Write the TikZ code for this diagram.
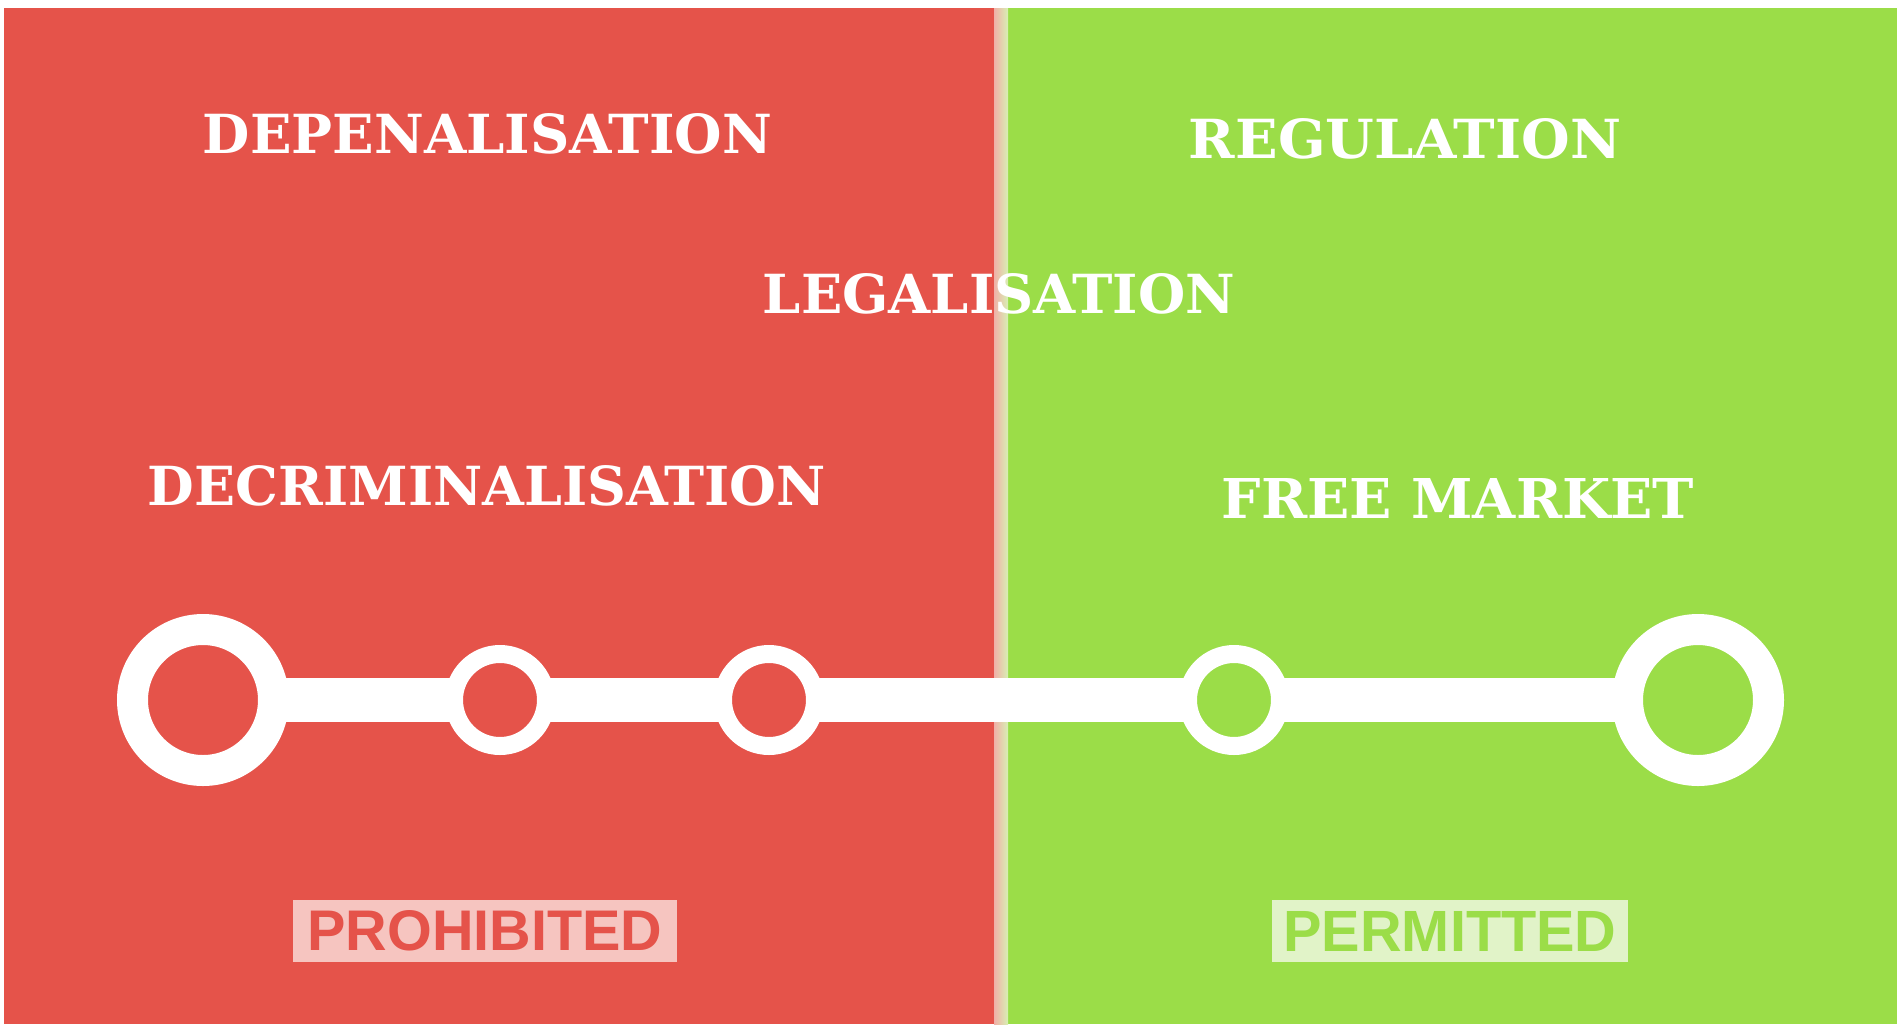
\documentclass[tikz,border=0pt]{standalone}
\usepackage{fontspec}
\usepackage{graphicx}
\newfontfamily\slabfont{DejaVu Serif Condensed}
\newfontfamily\labelfont{Liberation Sans}
\definecolor{redbg}{HTML}{E5534A}
\definecolor{greenbg}{HTML}{9BDD48}
\definecolor{redpale}{HTML}{F6C5C0}
\definecolor{greenpale}{HTML}{E1F3C8}
\definecolor{divred}{HTML}{F0B0A8}
\definecolor{divgreen}{HTML}{D8F0B4}
\tikzset{
  title/.style={inner sep=0pt, text=white, font=\slabfont\bfseries},
  bigring/.style={circle, draw=white, line width=15.5pt, minimum size=70.5pt, inner sep=0pt, outer sep=0pt},
  smallring/.style={circle, draw=white, line width=9pt, minimum size=46pt, inner sep=0pt, outer sep=0pt},
  bar/.style={draw=white, line width=22pt},
  tag/.style={inner sep=0pt, minimum height=31pt, font=\labelfont\bfseries}
}
\begin{document}
\begin{tikzpicture}[x=0.5pt,y=-0.5pt]
\useasboundingbox (0,0) rectangle (1897,1024);
\fill[white] (0,0) rectangle (1897,1024);
\fill[redbg] (4,8) rectangle (995,1024);
\fill[greenbg] (1007,8) rectangle (1897,1024);
\shade[left color=divred, right color=divgreen] (994,8) rectangle (1008,1024);

% timeline
\node[bigring, fill=redbg] (c1) at (203,700) {};
\node[smallring, fill=redbg] (c2) at (500,700) {};
\node[smallring, fill=redbg] (c3) at (769,700) {};
\node[smallring, fill=greenbg] (c4) at (1234,700) {};
\node[bigring, fill=greenbg] (c5) at (1698,700) {};
\draw[bar] (c1) -- (c2);
\draw[bar] (c2) -- (c3);
\draw[bar] (c3) -- (c4);
\draw[bar] (c4) -- (c5);

% titles
\node[title] (dep) at (487.5,134) {\resizebox{284.5pt}{20pt}{DEPENALISATION}};
\node[title] (reg) at (1405,139) {\resizebox{216pt}{20pt}{REGULATION}};
\node[title] (leg) at (999,294) {\resizebox{236pt}{20pt}{LEGALISATION}};
\node[title] (dec) at (487,486) {\resizebox{339pt}{20pt}{DECRIMINALISATION}};
\node[title] (free) at (1458,498) {\resizebox{236pt}{20pt}{FREE MARKET}};

% tags
\node[tag, fill=redpale, minimum width=192pt, text=redbg] (pro) at (485,931) {\resizebox{177.5pt}{20pt}{PROHIBITED}};
\node[tag, fill=greenpale, minimum width=178pt, text=greenbg] (per) at (1450,931) {\resizebox{166.5pt}{20pt}{PERMITTED}};
\end{tikzpicture}
\end{document}
